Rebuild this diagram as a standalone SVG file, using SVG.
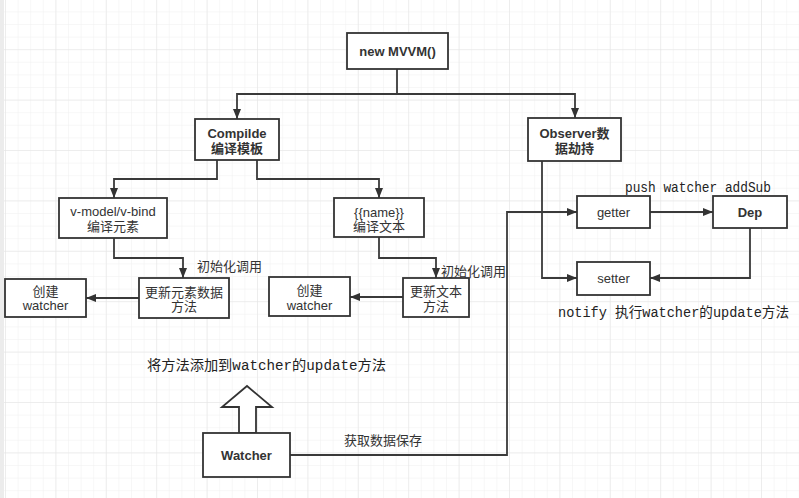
<svg xmlns="http://www.w3.org/2000/svg" width="799" height="498" viewBox="0 0 799 498">
<defs>
<pattern id="minor" patternUnits="userSpaceOnUse" x="5" y="-1.2" width="12.6" height="12.6">
<path d="M0,0 V12.6 M0,0 H12.6" fill="none" stroke="#f0f0f0" stroke-width="1"/>
</pattern>
<pattern id="major" patternUnits="userSpaceOnUse" x="5" y="-1.2" width="50.4" height="50.4">
<path d="M0,0 V50.4 M0,0 H50.4" fill="none" stroke="#e4e4e4" stroke-width="1"/>
</pattern>
<marker id="arr" viewBox="0 0 10 8" refX="10" refY="4" markerWidth="10" markerHeight="8" markerUnits="userSpaceOnUse" orient="auto">
<path d="M0,0 L10,4 L0,8 z" fill="#333"/>
</marker>
</defs>
<style>
.box{fill:#fff;stroke:#333;stroke-width:1.8}
.t{font-family:"Liberation Sans","Noto Sans CJK SC",sans-serif;font-size:13px;fill:#333;text-anchor:middle;dominant-baseline:central}
.b{font-weight:bold}
.c{fill:none;stroke:#3a3a3a;stroke-width:1.8;marker-end:url(#arr)}
.m{font-family:"Liberation Mono","Noto Sans CJK SC",monospace;font-size:14px;fill:#222;dominant-baseline:central}
.l{font-family:"Liberation Sans","Noto Sans CJK SC",sans-serif;font-size:13px;fill:#333;dominant-baseline:central}
</style>
<rect width="799" height="498" fill="#fff"/>
<rect width="799" height="498" fill="url(#minor)"/>
<rect width="799" height="498" fill="url(#major)"/>
<rect x="0" y="0" width="4" height="498" fill="#ececec"/>

<g id="connectors">
<path class="c" d="M397,69 V94 H237 V119"/>
<path class="c" d="M397,94 H575 V118"/>
<path class="c" d="M217,160 V179 H114 V198"/>
<path class="c" d="M257,160 V179 H379 V198"/>
<path class="c" d="M114,238 V258 H183 V278"/>
<path class="c" d="M379,237 V258 H436 V278"/>
<path class="c" d="M139,298 H86"/>
<path class="c" d="M403,297 H350"/>
<path class="c" d="M542,161 V278 H577"/>
<path class="c" d="M650,212 H713"/>
<path class="c" d="M750,228 V278 H650"/>
<path class="c" d="M290,455 H507 V212 H577"/>
<polygon points="239,433 239,407 222,407 247,386 272,407 256,407 256,433" fill="#fff" stroke="#333" stroke-width="1.8" stroke-linejoin="miter"/>
</g>

<g id="n-mvvm"><rect class="box" x="347" y="33" width="101" height="36"/><text class="t b" x="397.5" y="51">new MVVM()</text></g>
<g id="n-compile"><rect class="box" x="195" y="119" width="84" height="41"/><text class="t b" x="237" y="133">Compilde</text><text class="t b" x="237" y="148">编译模板</text></g>
<g id="n-observer"><rect class="box" x="528" y="118" width="93" height="43"/><text class="t b" x="574.5" y="133">Observer数</text><text class="t b" x="574.5" y="148">据劫持</text></g>
<g id="n-vmodel"><rect class="box" x="59" y="198" width="108" height="40"/><text class="t" x="113" y="211">v-model/v-bind</text><text class="t" x="113" y="226">编译元素</text></g>
<g id="n-name"><rect class="box" x="334" y="198" width="90" height="39"/><text class="t" x="379" y="212">{{name}}</text><text class="t" x="379" y="226">编译文本</text></g>
<g id="n-update1"><rect class="box" x="139" y="278" width="90" height="40"/><text class="t" x="184" y="292">更新元素数据</text><text class="t" x="184" y="306">方法</text></g>
<g id="n-create1"><rect class="box" x="5" y="279" width="81" height="38"/><text class="t" x="45.5" y="291">创建</text><text class="t" x="45.5" y="305">watcher</text></g>
<g id="n-update2"><rect class="box" x="403" y="278" width="66" height="39"/><text class="t" x="436" y="291">更新文本</text><text class="t" x="436" y="306">方法</text></g>
<g id="n-create2"><rect class="box" x="269" y="277" width="81" height="39"/><text class="t" x="309.5" y="290">创建</text><text class="t" x="309.5" y="305">watcher</text></g>
<g id="n-getter"><rect class="box" x="577" y="196" width="73" height="32"/><text class="t" x="613.5" y="212">getter</text></g>
<g id="n-dep"><rect class="box" x="713" y="196" width="74" height="32"/><text class="t b" x="750" y="212">Dep</text></g>
<g id="n-setter"><rect class="box" x="577" y="262" width="73" height="33"/><text class="t" x="613.5" y="278">setter</text></g>
<g id="n-watcher"><rect class="box" x="203" y="433" width="87" height="44"/><text class="t b" x="246.5" y="455">Watcher</text></g>

<g id="labels">
<text class="m" x="625" y="188" textLength="146" lengthAdjust="spacingAndGlyphs">push watcher addSub</text>
<text class="m" x="558" y="313" textLength="231" lengthAdjust="spacingAndGlyphs">notify 执行watcher的update方法</text>
<text class="m" x="147" y="366" textLength="239" lengthAdjust="spacingAndGlyphs">将方法添加到watcher的update方法</text>
<text class="l" x="197" y="266">初始化调用</text>
<text class="l" x="441" y="271">初始化调用</text>
<text class="l" x="344" y="440">获取数据保存</text>
</g>
</svg>
